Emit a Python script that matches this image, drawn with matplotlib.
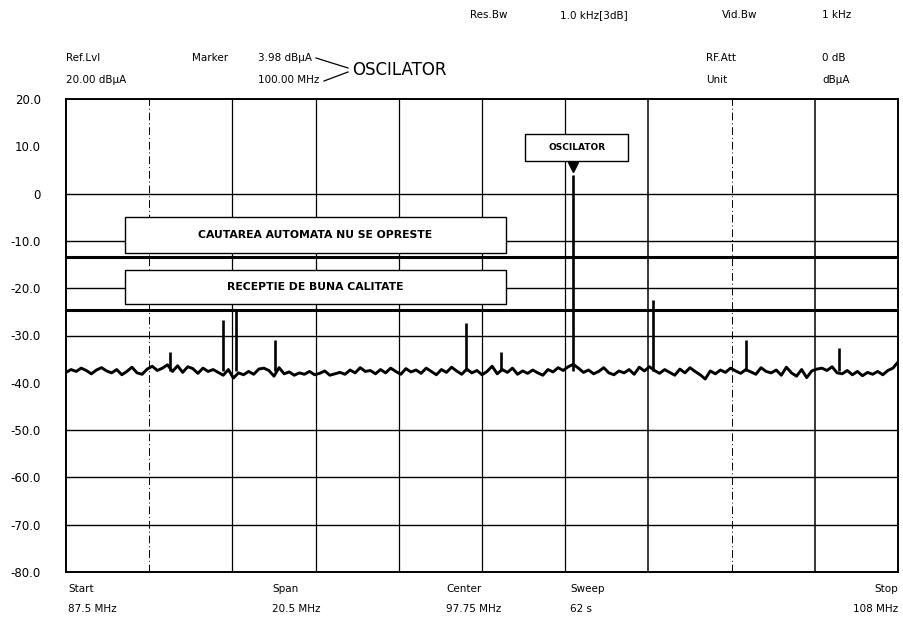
import numpy as np
import matplotlib
matplotlib.use("Agg")
import matplotlib.pyplot as plt
from matplotlib.patches import Rectangle
from matplotlib.lines import Line2D

plt.rcParams['font.family'] = ['DejaVu Sans']

# sweep settings (MHz / dBuA)
f_start, f_stop = 87.5, 108.0
ref_level, bottom_level = 20.0, -80.0

# noise floor of the trace, one value every 0.125 MHz from 87.5 to 108 MHz
noise_levels = [
    -37.8, -37.2, -37.6, -36.9, -37.4, -38.1, -37.3, -36.8, -37.5, -37.9,
    -37.2, -38.3, -37.6, -36.7, -37.9, -38.2, -37.1, -36.5, -37.4, -36.9,
    -36.2, -37.6, -36.4, -37.8, -36.6, -37.0, -38.0, -36.9, -37.6, -37.2,
    -37.8, -38.4, -37.2, -39.0, -37.9, -38.3, -37.6, -38.2, -37.1, -36.9,
    -37.4, -38.6, -36.8, -38.1, -37.7, -38.4, -37.9, -38.2, -37.6, -38.3,
    -38.0, -37.5, -38.4, -38.1, -37.8, -38.2, -37.3, -37.9, -36.8, -37.6,
    -37.4, -38.1, -37.2, -37.9, -36.9, -37.6, -38.2, -37.0, -37.7, -37.3,
    -38.0, -36.9, -37.6, -38.3, -37.2, -37.8, -36.7, -37.5, -38.2, -37.1,
    -37.9, -37.4, -38.3, -37.6, -36.5, -38.1, -37.2, -37.8, -36.9, -38.2,
    -37.5, -38.0, -37.3, -37.9, -38.4, -37.2, -37.7, -36.8, -37.4, -36.6,
    -36.1, -36.9, -37.8, -37.3, -38.1, -37.6, -36.8, -37.9, -38.3, -37.5,
    -37.9, -37.2, -38.2, -36.7, -37.5, -36.6, -37.4, -38.0, -37.2, -37.8,
    -38.4, -37.1, -37.9, -36.8, -37.6, -38.3, -39.2, -37.5, -38.1, -37.3,
    -37.8, -36.9, -37.5, -38.0, -37.2, -37.7, -38.2, -36.8, -37.6, -37.9,
    -37.3, -38.4, -36.7, -37.9, -38.6, -37.2, -38.9, -37.5, -37.1, -36.9,
    -37.4, -36.6, -37.9, -38.1, -37.4, -38.3, -37.6, -38.5, -37.8, -38.2,
    -37.6, -38.3, -37.4, -36.9, -35.6,
]
floor_level = -37.5

# stations / spurs seen above the noise
spike_freqs = [90.06, 91.37, 91.69, 92.65, 97.36, 98.22, 100.00, 101.96, 104.26, 106.55]
spike_levels = [-33.4, -26.8, -24.5, -31.0, -27.3, -33.4, 3.98, -22.4, -31.0, -32.6]

marker_freq, marker_level = 100.00, 3.98

y_ticks = [20, 10, 0, -10, -20, -30, -40, -50, -60, -70, -80]
grid_levels = [0, -10, -20, -30, -50, -60, -70]
threshold_levels = [-13.5, -24.7]

header_left = [("Ref.Lvl", "20.00 dB\u00b5A"), ("Marker", ""), ("3.98 dB\u00b5A", "100.00 MHz")]
footer = [("Start", "87.5 MHz"), ("Span", "20.5 MHz"), ("Center", "97.75 MHz"), ("Sweep", "62 s"), ("Stop", "108 MHz")]

W, H = 904, 619


def px(x, y):
    return x / W, 1 - y / H


fig = plt.figure(figsize=(W / 100, H / 100), dpi=100)
ax = fig.add_axes([66 / W, 1 - 572 / H, 832 / W, 473 / H])
ax.set_xlim(f_start, f_stop)
ax.set_ylim(bottom_level, ref_level)

# grid
vgrid = np.linspace(f_start, f_stop, 11)[1:-1]
for i, f in enumerate(vgrid):
    if i in (0, 7):
        ax.axvline(f, color='black', lw=0.7, ls=(0, (8, 3, 1, 3)), zorder=1)
    else:
        ax.axvline(f, color='black', lw=1.1 if i in (6, 8) else 0.9, zorder=1)
for lv in grid_levels:
    ax.axhline(lv, color='black', lw=1.0, zorder=1)
for lv in threshold_levels:
    ax.axhline(lv, color='black', lw=2.2, zorder=1)

# trace
freqs = np.linspace(f_start, f_stop, len(noise_levels))
ax.plot(freqs, noise_levels, color='black', lw=2.1, zorder=4)
ax.vlines(spike_freqs, floor_level, spike_levels, color='black', lw=1.9, zorder=4)
ax.plot([marker_freq], [marker_level + 1.6], marker='v', color='black', ms=7, zorder=5)

# text boxes
for (y0, y1, label) in [(-12.5, -4.9, "CAUTAREA AUTOMATA NU SE OPRESTE"),
                        (-23.4, -16.1, "RECEPTIE DE BUNA CALITATE")]:
    ax.add_patch(Rectangle((88.95, y0), 98.34 - 88.95, y1 - y0, facecolor='white',
                           edgecolor='black', lw=1.0, zorder=3))
    ax.text((88.95 + 98.34) / 2, (y0 + y1) / 2, label, ha='center', va='center',
            fontsize=7.8, fontweight='bold', zorder=6)

ax.add_patch(Rectangle((98.81, 6.8), 101.35 - 98.81, 12.5 - 6.8, facecolor='white',
                       edgecolor='black', lw=1.0, zorder=3))
ax.text((98.81 + 101.35) / 2, 9.65, "OSCILATOR", ha='center', va='center',
        fontsize=6.5, fontweight='bold', zorder=6)

# axes styling
ax.set_yticks(y_ticks)
ax.set_yticklabels(["0" if t == 0 else f"{t:.1f}" for t in y_ticks], fontsize=8.5)
ax.tick_params(axis='y', length=0, pad=18)
ax.set_xticks([])
for s in ax.spines.values():
    s.set_linewidth(1.4)

# header
hfs = 7.5
fig.text(*px(470, 15), "Res.Bw", fontsize=hfs, va='center')
fig.text(*px(560, 15), "1.0 kHz[3dB]", fontsize=hfs, va='center')
fig.text(*px(722, 15), "Vid.Bw", fontsize=hfs, va='center')
fig.text(*px(822, 15), "1 kHz", fontsize=hfs, va='center')
for (x, (a, b)) in zip([66, 192, 258], header_left):
    fig.text(*px(x, 58), a, fontsize=hfs, va='center')
    fig.text(*px(x, 80), b, fontsize=hfs, va='center')
fig.text(*px(706, 58), "RF.Att", fontsize=hfs, va='center')
fig.text(*px(822, 58), "0 dB", fontsize=hfs, va='center')
fig.text(*px(706, 80), "Unit", fontsize=hfs, va='center')
fig.text(*px(822, 80), "dB\u00b5A", fontsize=hfs, va='center')
fig.text(*px(352, 70), "OSCILATOR", fontsize=12, va='center')
fig.add_artist(Line2D([316 / W, 348 / W], [1 - 58 / H, 1 - 68 / H], transform=fig.transFigure, color='black', lw=0.9))
fig.add_artist(Line2D([324 / W, 348 / W], [1 - 81 / H, 1 - 72 / H], transform=fig.transFigure, color='black', lw=0.9))

# footer
for (x, (a, b)) in zip([68, 272, 446, 570, 898], footer):
    ha = 'right' if a == "Stop" else 'left'
    fig.text(*px(x, 589), a, fontsize=hfs, va='center', ha=ha)
    fig.text(*px(x, 609), b, fontsize=hfs, va='center', ha=ha)

fig.savefig("out.png", dpi=100, facecolor='white')
